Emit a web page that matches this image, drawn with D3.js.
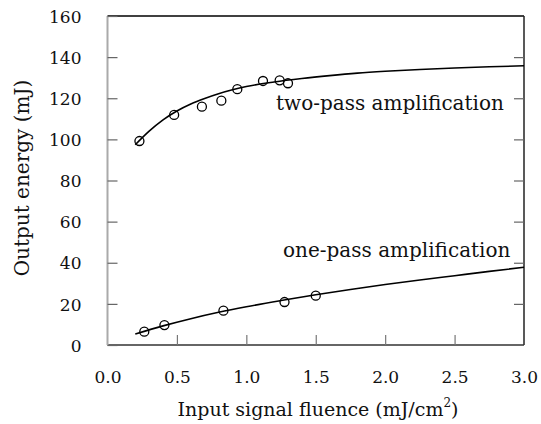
<!DOCTYPE html>
<html lang="en">
<head>
<meta charset="utf-8">
<title>Output energy vs input fluence</title>
<script src="https://cdn.jsdelivr.net/npm/d3@7"></script>
<style>
  body { margin: 0; background: white; }
  svg { display: block; background: white; }
  text { font-family: "DejaVu Serif", "Liberation Serif", serif; fill: #111; }
  .tick text { font-size: 17px; }
</style>
</head>
<body>
<svg id="chart"></svg>
<script>
// measured points
var twoPassX = [0.23, 0.48, 0.68, 0.82, 0.935, 1.12, 1.24, 1.30];
var twoPassY = [99.2, 111.9, 115.9, 118.8, 124.4, 128.4, 128.7, 127.3];
var onePassX = [0.265, 0.41, 0.835, 1.275, 1.50];
var onePassY = [6.5, 9.7, 16.7, 20.9, 24.0];

// fitted curves
var twoFitX = [0.2, 0.3, 0.4, 0.5, 0.6, 0.7, 0.8, 0.9, 1.0, 1.2, 1.4, 1.6, 1.8, 2.0, 2.25, 2.5, 2.75, 3.0];
var twoFitY = [97.4, 104, 109.5, 113.8, 117.2, 119.9, 122.2, 124.1, 125.7, 127.9, 129.6, 131.0, 132.2, 133.1, 134.0, 134.7, 135.3, 135.8];
var oneFitX = [0.2, 0.4, 0.6, 0.8, 1.0, 1.25, 1.5, 1.75, 2.0, 2.25, 2.5, 2.75, 3.0];
var oneFitY = [5.3, 9.3, 12.8, 15.9, 18.6, 21.6, 24.4, 27.0, 29.4, 31.6, 33.7, 35.8, 37.8];

var xTicks = [0, 0.5, 1.0, 1.5, 2.0, 2.5, 3.0];
var yTicks = [0, 20, 40, 60, 80, 100, 120, 140, 160];

var width = 541, height = 424;
var margin = {top: 16, right: 17, bottom: 79, left: 107.5};

var svg = d3.select("#chart").attr("width", width).attr("height", height);

var x = d3.scaleLinear().domain([0, 3]).range([margin.left, width - margin.right]);
var y = d3.scaleLinear().domain([0, 160]).range([height - margin.bottom, margin.top]);

// frame: left spine looks grey in the scan, the rest black
svg.append("line")
    .attr("x1", x(0)).attr("x2", x(3)).attr("y1", y(160)).attr("y2", y(160))
    .attr("stroke", "#000").attr("stroke-width", 1.3);
svg.append("line")
    .attr("x1", x(3)).attr("x2", x(3)).attr("y1", y(160)).attr("y2", y(0))
    .attr("stroke", "#222").attr("stroke-width", 1.5);
svg.append("line")
    .attr("x1", x(0)).attr("x2", x(3)).attr("y1", y(0)).attr("y2", y(0))
    .attr("stroke", "#333").attr("stroke-width", 1.5);
svg.append("line")
    .attr("x1", x(0)).attr("x2", x(0)).attr("y1", y(160)).attr("y2", y(0))
    .attr("stroke", "#aaa").attr("stroke-width", 2);

// y axis (inward ticks)
var yAxis = svg.append("g")
    .attr("transform", "translate(" + x(0) + ",0)")
    .call(d3.axisRight(y).tickValues(yTicks).tickSize(10).tickFormat(d3.format("d")));
yAxis.select(".domain").remove();
yAxis.selectAll(".tick line").attr("stroke", "#666").attr("stroke-width", 1.2);
yAxis.selectAll(".tick text")
    .attr("x", -26).attr("text-anchor", "end").attr("dy", "0.36em");

// right ticks
var yRight = svg.append("g")
    .attr("transform", "translate(" + x(3) + ",0)")
    .call(d3.axisLeft(y).tickValues(yTicks.slice(1, 8)).tickSize(10).tickFormat(""));
yRight.select(".domain").remove();
yRight.selectAll(".tick line").attr("stroke", "#666").attr("stroke-width", 1.2);

// x axis (inward ticks)
var xAxis = svg.append("g")
    .attr("transform", "translate(0," + y(0) + ")")
    .call(d3.axisTop(x).tickValues(xTicks).tickSize(10).tickFormat(d3.format(".1f")));
xAxis.select(".domain").remove();
xAxis.selectAll(".tick line").attr("stroke", "#777").attr("stroke-width", 1.2)
    .filter(function(d) { return d === 0 || d === 3; }).remove();
xAxis.selectAll(".tick text")
    .attr("y", 38).attr("dy", 0).attr("text-anchor", "middle");

svg.selectAll(".tick text").attr("fill", "#111").style("font-size", "17px")
    .style("font-family", "\"DejaVu Serif\", serif");

// curves
var line = d3.line()
    .x(function(d) { return x(d[0]); })
    .y(function(d) { return y(d[1]); })
    .curve(d3.curveMonotoneX);

svg.append("path")
    .datum(d3.zip(twoFitX, twoFitY))
    .attr("d", line)
    .attr("fill", "none").attr("stroke", "#000").attr("stroke-width", 1.6);
svg.append("path")
    .datum(d3.zip(oneFitX, oneFitY))
    .attr("d", line)
    .attr("fill", "none").attr("stroke", "#000").attr("stroke-width", 1.6);

// markers
var pts = d3.zip(twoPassX, twoPassY).concat(d3.zip(onePassX, onePassY));
svg.selectAll("circle.pt")
    .data(pts)
    .enter().append("circle")
    .attr("class", "pt")
    .attr("cx", function(d) { return x(d[0]); })
    .attr("cy", function(d) { return y(d[1]); })
    .attr("r", 4.5)
    .attr("fill", "none")
    .attr("stroke", "#000")
    .attr("stroke-width", 1.3);

// series labels
svg.append("text")
    .attr("x", 276).attr("y", 110)
    .style("font-size", "20px")
    .text("two-pass amplification");
svg.append("text")
    .attr("x", 283).attr("y", 257)
    .style("font-size", "20px")
    .text("one-pass amplification");

// axis titles
svg.append("text")
    .attr("transform", "translate(29,178) rotate(-90)")
    .attr("text-anchor", "middle")
    .style("font-size", "20px")
    .text("Output energy (mJ)");

var xt = svg.append("text")
    .attr("x", 318).attr("y", 416)
    .attr("text-anchor", "middle")
    .style("font-size", "19px");
xt.append("tspan").text("Input signal fluence (mJ/cm");
xt.append("tspan").attr("dy", -9).style("font-size", "12px").text("2");
xt.append("tspan").attr("dy", 9).text(")");
</script>
</body>
</html>
